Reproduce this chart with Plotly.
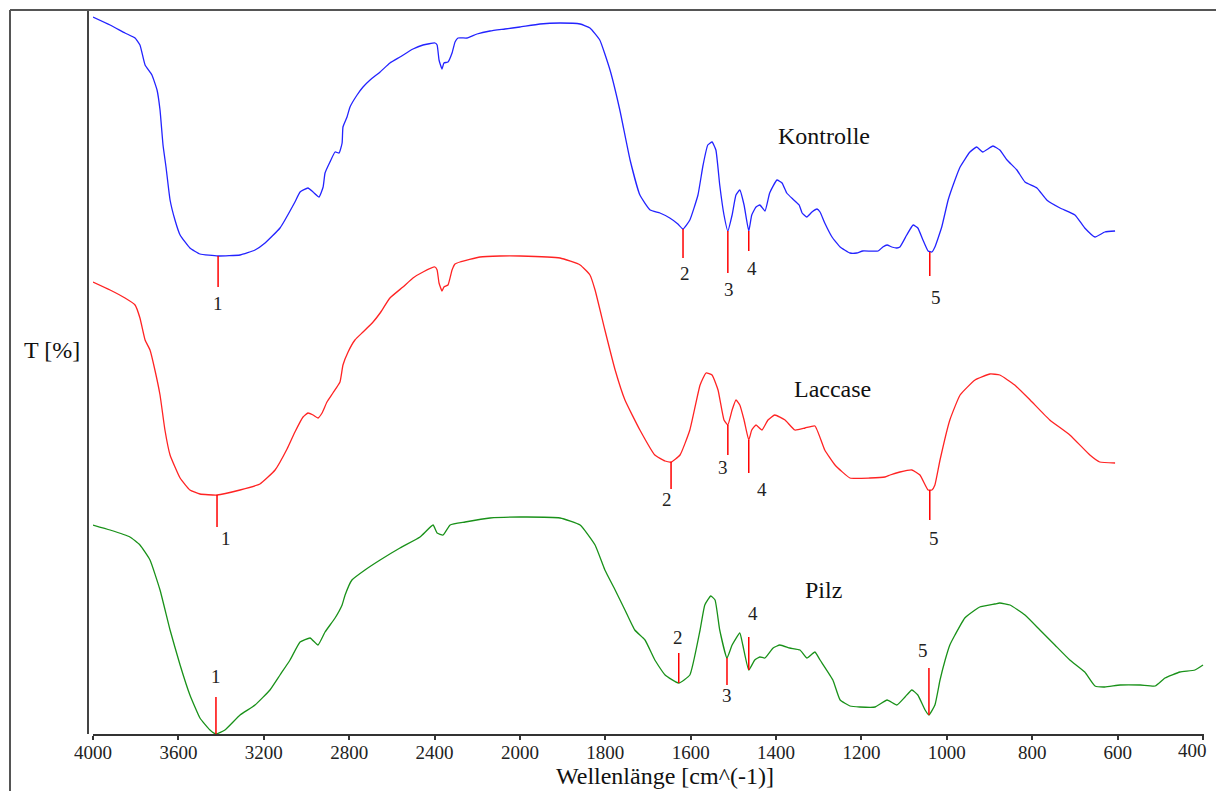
import plotly.graph_objects as go

# ---------------- data (wavenumber cm^-1, transmittance, arbitrary scale) ----------------
k_wn = [4000, 3920, 3850, 3803, 3780, 3756, 3724, 3700, 3686, 3672, 3658, 3639, 3616, 3592, 3546, 3499,
        3414, 3311, 3241, 3194, 3124, 3054, 3030, 2993, 2969, 2941, 2922, 2913, 2890, 2866, 2847, 2833,
        2829, 2810, 2796, 2763, 2735, 2702, 2655, 2609, 2562, 2501, 2454, 2398, 2388, 2379, 2365, 2356,
        2337, 2318, 2304, 2290, 2248, 2201, 2140, 2070, 2000, 1953, 1906, 1859, 1836, 1813, 1789, 1766,
        1742, 1719, 1695, 1672, 1649, 1630, 1618, 1602, 1583, 1571, 1560, 1550, 1541, 1532, 1522, 1513,
        1503, 1494, 1485, 1475, 1464, 1457, 1447, 1438, 1426, 1415, 1398, 1386, 1375, 1361, 1346, 1339,
        1328, 1316, 1304, 1297, 1286, 1269, 1250, 1227, 1211, 1197, 1161, 1150, 1140, 1129, 1117, 1110,
        1094, 1079, 1068, 1056, 1044, 1035, 1028, 1012, 997, 981, 969, 946, 930, 916, 892, 876, 859, 836,
        817, 789, 766, 735, 700, 677, 653, 630, 606]
k_t = [71.7, 70.9, 70.1, 69.6, 68.9, 66.9, 65.9, 64.4, 62.4, 58.9, 56.7, 53.4, 51.4, 49.9, 48.6, 48.0,
       47.8, 47.9, 48.4, 49.1, 50.6, 53.2, 54.2, 54.6, 54.2, 53.7, 54.7, 56.1, 57.2, 58.2, 58.1, 59.1,
       60.7, 61.7, 62.7, 63.9, 64.7, 65.4, 66.2, 67.1, 67.7, 68.5, 68.9, 69.1, 68.9, 67.4, 66.5, 67.1,
       67.2, 68.1, 69.2, 69.6, 69.6, 70.0, 70.3, 70.5, 70.7, 71.0, 71.1, 71.0, 70.6, 69.4, 66.4, 62.4,
       57.4, 53.9, 52.4, 52.1, 51.6, 51.0, 50.5, 51.4, 53.9, 56.9, 58.9, 59.2, 58.4, 54.9, 51.9, 50.3,
       51.9, 53.9, 54.4, 52.9, 50.3, 51.9, 52.7, 52.9, 52.3, 54.1, 55.4, 55.1, 54.1, 53.5, 52.9, 52.1,
       51.7, 52.2, 52.5, 52.2, 51.1, 49.7, 48.7, 48.1, 48.1, 48.3, 48.3, 48.7, 48.9, 48.7, 48.6, 48.7,
       49.9, 50.9, 50.6, 49.4, 48.3, 48.2, 48.7, 50.7, 53.4, 55.4, 56.7, 58.2, 58.7, 58.2, 58.8, 58.4,
       57.4, 56.4, 55.2, 54.6, 53.4, 52.6, 51.9, 50.6, 49.7, 50.2, 50.3]

l_wn = [4000, 3920, 3850, 3803, 3780, 3756, 3733, 3710, 3686, 3663, 3639, 3592, 3546, 3499, 3419, 3311,
        3218, 3147, 3091, 3054, 3016, 2993, 2969, 2946, 2927, 2904, 2876, 2843, 2829, 2805, 2773, 2735,
        2688, 2655, 2609, 2548, 2501, 2454, 2398, 2388, 2379, 2365, 2356, 2337, 2318, 2304, 2281, 2187,
        2093, 2000, 1906, 1859, 1836, 1824, 1801, 1777, 1754, 1719, 1684, 1660, 1646, 1625, 1602, 1578,
        1564, 1550, 1536, 1522, 1513, 1503, 1494, 1485, 1475, 1464, 1457, 1447, 1433, 1419, 1403, 1379,
        1356, 1332, 1309, 1286, 1262, 1227, 1180, 1145, 1133, 1110, 1082, 1063, 1044, 1035, 1028, 1016,
        993, 969, 934, 899, 876, 841, 805, 759, 712, 665, 642, 606]
l_t = [45.2, 44.4, 43.6, 42.9, 41.6, 39.4, 38.4, 36.4, 33.9, 30.4, 27.9, 25.6, 24.4, 24.0, 23.9, 24.4,
       25.0, 26.4, 28.5, 30.2, 31.7, 32.1, 31.9, 31.6, 32.1, 33.2, 34.1, 35.2, 36.9, 38.2, 39.4, 40.2,
       41.2, 42.1, 43.6, 44.7, 45.6, 46.2, 46.7, 46.4, 45.1, 44.3, 44.7, 44.9, 46.4, 47.0, 47.2, 47.7,
       47.8, 47.8, 47.6, 46.9, 45.9, 44.4, 40.4, 36.4, 33.4, 30.4, 27.9, 27.3, 27.2, 27.9, 30.4, 34.9,
       36.1, 35.9, 34.4, 31.4, 30.9, 32.4, 33.4, 32.9, 31.4, 29.4, 30.4, 30.9, 30.4, 31.4, 31.9, 31.4,
       30.4, 30.6, 30.8, 28.4, 26.9, 25.6, 25.6, 25.7, 25.9, 26.2, 26.4, 25.9, 24.4, 24.4, 24.9, 27.4,
       31.4, 33.9, 35.4, 36.0, 35.9, 34.9, 33.4, 31.4, 29.9, 27.9, 27.2, 27.1]

p_wn = [4000, 3920, 3827, 3780, 3733, 3686, 3639, 3592, 3546, 3499, 3452, 3424, 3382, 3311, 3241, 3171,
        3124, 3077, 3030, 2983, 2946, 2913, 2866, 2833, 2819, 2787, 2726, 2655, 2562, 2468, 2407, 2388,
        2360, 2327, 2257, 2140, 2000, 1906, 1859, 1824, 1801, 1777, 1754, 1731, 1707, 1684, 1660, 1628,
        1602, 1578, 1567, 1553, 1543, 1532, 1515, 1503, 1485, 1478, 1464, 1450, 1438, 1426, 1407, 1391,
        1368, 1344, 1328, 1309, 1297, 1267, 1250, 1227, 1204, 1168, 1140, 1117, 1098, 1082, 1068, 1051,
        1042, 1028, 1016, 1004, 993, 981, 958, 934, 923, 888, 876, 852, 817, 782, 747, 712, 677, 653,
        630, 594, 547, 512, 489, 454, 419, 400]
p_t = [20.9, 20.4, 19.7, 18.9, 17.4, 14.4, 10.4, 6.9, 3.9, 1.6, 0.4, 0.0, 0.4, 1.9, 2.9, 4.4,
       5.9, 7.4, 9.2, 9.6, 8.9, 10.2, 11.6, 12.9, 13.9, 15.4, 16.4, 17.4, 18.6, 19.7, 20.9, 20.1,
       19.9, 20.9, 21.2, 21.6, 21.7, 21.6, 20.9, 18.9, 16.4, 14.4, 12.4, 10.4, 9.4, 7.4, 5.9, 5.1,
       5.9, 10.4, 12.9, 13.8, 13.4, 10.4, 7.6, 8.9, 10.1, 8.9, 6.4, 7.4, 7.7, 7.6, 8.6, 8.9,
       8.6, 8.4, 7.6, 8.2, 7.4, 5.4, 3.4, 2.8, 2.7, 2.7, 3.4, 2.9, 3.7, 4.4, 3.9, 2.4,
       1.9, 2.9, 5.4, 7.4, 8.9, 9.9, 11.6, 12.4, 12.7, 13.0, 13.1, 12.9, 11.9, 10.4, 8.9, 7.4, 6.2, 4.8,
       4.7, 4.9, 4.9, 4.8, 5.6, 6.2, 6.4, 6.9]

# band markers: wavenumber, line start/end (T), label position
mark_text = ["1", "2", "3", "4", "5"]
k_mark_wn = [3414, 1618, 1513, 1464, 1040]
k_mark_t0 = [47.8, 50.5, 50.3, 50.3, 48.2]
k_mark_t1 = [44.7, 47.6, 46.1, 48.3, 45.8]
k_lab_wn = [3414, 1613, 1511, 1457, 1026]
k_lab_t = [43.1, 46.1, 44.5, 46.6, 43.7]

l_mark_wn = [3419, 1646, 1513, 1464, 1040]
l_mark_t0 = [23.9, 27.2, 30.9, 29.4, 24.4]
l_mark_t1 = [20.7, 24.5, 27.9, 26.1, 21.4]
l_lab_wn = [3377, 1656, 1524, 1433, 1030]
l_lab_t = [19.6, 23.5, 26.7, 24.5, 19.6]

p_mark_wn = [3424, 1628, 1515, 1464, 1042]
p_mark_t0 = [0.0, 5.1, 7.6, 6.4, 1.9]
p_mark_t1 = [3.7, 8.1, 4.9, 9.7, 6.6]
p_lab_wn = [3424, 1630, 1515, 1455, 1056]
p_lab_t = [5.8, 9.7, 3.9, 12.1, 8.4]

series_names = ["Kontrolle", "Laccase", "Pilz"]
series_lab_wn = [1288, 1269, 1288]
series_lab_t = [59.8, 34.5, 14.4]

tick_wn = [4000, 3600, 3200, 2800, 2400, 2000, 1800, 1600, 1400, 1200, 1000, 800, 600, 400]


# axis above 2000 cm^-1 is compressed by factor 2 (instrument-style scale break)
def tx(w):
    return w if w <= 2000 else 2000 + (w - 2000) / 2.0


def txl(ws):
    return [tx(w) for w in ws]


fig = go.Figure()

colors = ["rgb(35,35,255)", "rgb(255,35,35)", "rgb(25,145,25)"]
for wn, t, c, n in [(k_wn, k_t, colors[0], "Kontrolle"), (l_wn, l_t, colors[1], "Laccase"),
                    (p_wn, p_t, colors[2], "Pilz")]:
    fig.add_trace(go.Scatter(x=txl(wn), y=t, mode="lines", name=n,
                             line=dict(color=c, width=1.3, shape="spline", smoothing=0.4),
                             showlegend=False))

serif = "Liberation Serif"
annotations = []
for mw, t0, t1, lw, lt in [(k_mark_wn, k_mark_t0, k_mark_t1, k_lab_wn, k_lab_t),
                           (l_mark_wn, l_mark_t0, l_mark_t1, l_lab_wn, l_lab_t),
                           (p_mark_wn, p_mark_t0, p_mark_t1, p_lab_wn, p_lab_t)]:
    xs, ys = [], []
    for w, a, b in zip(mw, t0, t1):
        xs += [tx(w), tx(w), None]
        ys += [a, b, None]
    fig.add_trace(go.Scatter(x=xs, y=ys, mode="lines", line=dict(color="rgb(255,0,0)", width=1.5),
                             showlegend=False, hoverinfo="skip"))
    for txt, w, t in zip(mark_text, lw, lt):
        annotations.append(dict(x=tx(w), y=t, xref="x", yref="y", text=txt, showarrow=False,
                                font=dict(family=serif, size=19, color="#222"),
                                xanchor="center", yanchor="middle"))

for n, w, t in zip(series_names, series_lab_wn, series_lab_t):
    annotations.append(dict(x=tx(w), y=t, xref="x", yref="y", text=n, showarrow=False,
                            font=dict(family=serif, size=24, color="#111"),
                            xanchor="center", yanchor="middle"))

# last tick label sits inside the frame (shifted left like the original)
annotations.append(dict(x=(1192 - 88) / 1116, y=(734 - 750) / 724, xref="paper", yref="paper",
                        text=str(tick_wn[-1]), showarrow=False,
                        font=dict(family=serif, size=19, color="#222"),
                        xanchor="center", yanchor="middle"))

# axis titles
annotations.append(dict(x=(665 - 88) / 1116, y=(734 - 776) / 724, xref="paper", yref="paper",
                        text="Wellenlänge [cm^(-1)]", showarrow=False,
                        font=dict(family=serif, size=24, color="#111"),
                        xanchor="center", yanchor="middle"))
annotations.append(dict(x=(52 - 88) / 1116, y=(734 - 350) / 724, xref="paper", yref="paper",
                        text="T [%]", showarrow=False,
                        font=dict(family=serif, size=24, color="#111"),
                        xanchor="center", yanchor="middle"))

fx = (10 - 88) / 1116
shapes = [
    dict(type="line", xref="paper", yref="paper", x0=fx, x1=fx, y0=1.0, y1=-0.2,
         line=dict(color="#555", width=2)),
    dict(type="line", xref="paper", yref="paper", x0=fx, x1=1.05, y0=1.0, y1=1.0,
         line=dict(color="#555", width=2)),
]

fig.update_layout(
    width=1216, height=791,
    margin=dict(l=88, r=12, t=10, b=57),
    paper_bgcolor="white", plot_bgcolor="white",
    annotations=annotations, shapes=shapes,
    xaxis=dict(domain=[5 / 1116, 1], range=[3000, 397.7], tickvals=txl(tick_wn),
               ticktext=[str(v) for v in tick_wn[:-1]] + [""], showgrid=False, zeroline=False,
               showline=True, linecolor="#333", linewidth=2, ticks="outside", ticklen=4,
               tickwidth=1.5, tickcolor="#333", ticklabelstandoff=-4,
               tickfont=dict(family=serif, size=19, color="#222")),
    yaxis=dict(range=[0, 72.4], anchor="free", position=0, showgrid=False, zeroline=False,
               showline=True, linecolor="#444", linewidth=2, showticklabels=False, ticks=""),
)

fig.write_html("out.html")
